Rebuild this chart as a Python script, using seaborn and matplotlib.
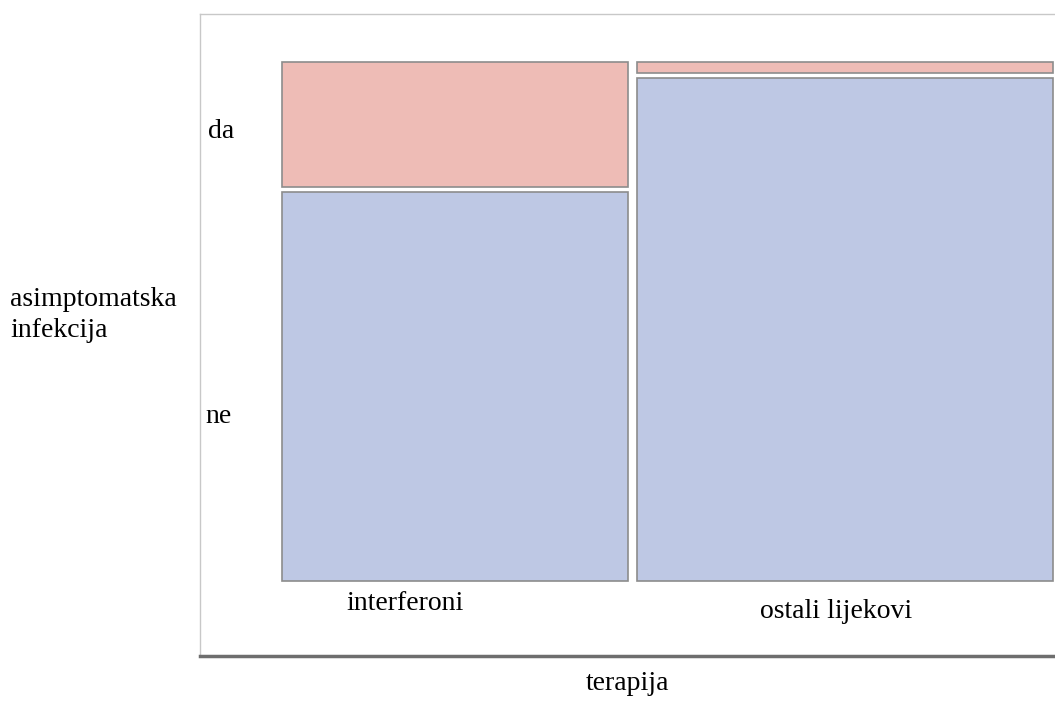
import numpy as np
import matplotlib
matplotlib.use('Agg')
import matplotlib.pyplot as plt
import seaborn as sns

# mosaic plot: terapija x asimptomatska infekcija
therapies = ['interferoni', 'ostali lijekovi']
levels = ['da', 'ne']
count_da = [16, 2]
count_ne = [49, 76]
colors = {'da': '#eebcb6', 'ne': '#bec8e4'}

sns.set_style('white')
plt.rcParams['font.family'] = ['Liberation Serif', 'DejaVu Serif']
plt.rcParams['text.color'] = 'black'

fig = plt.figure(figsize=(10.55, 7.15), dpi=100)
W, H = 1055, 715
# axes frame in pixels: left 200, right off-canvas, top 14, bottom 656
ax = fig.add_axes([200 / W, (H - 656) / H, 870 / W, (656 - 14) / H])

da = np.array(count_da, dtype=float)
ne = np.array(count_ne, dtype=float)
totals = da + ne
shares = totals / totals.sum()
x_gap = 0.0117
y_gap = 0.0088

lefts = np.concatenate([[0], np.cumsum(shares)[:-1]])
widths = shares - x_gap / 2
lefts = lefts + np.array([0, x_gap / 2])
p_da = da / totals
p_ne = ne / totals

# 'ne' at the bottom, 'da' on top
ax.bar(lefts, p_ne - y_gap / 2, width=widths, bottom=0, align='edge',
       color=colors['ne'], edgecolor='#8c8c8c', linewidth=1.2)
ax.bar(lefts, p_da - y_gap / 2, width=widths, bottom=p_ne + y_gap / 2,
       align='edge', color=colors['da'], edgecolor='#8c8c8c', linewidth=1.2)

# map mosaic [0,1]x[0,1] onto pixels 282..1053 and 581..62
ax.set_xlim((200 - 282) / 771, (1070 - 282) / 771)
ax.set_ylim(-(656 - 581) / 519, 1 + (581 - 14 - 519) / 519)
ax.set_xticks([])
ax.set_yticks([])
for side in ['top', 'left']:
    ax.spines[side].set_color('#c8c8c8')
    ax.spines[side].set_linewidth(1)
ax.spines['right'].set_visible(False)
ax.spines['bottom'].set_color('#6e6e6e')
ax.spines['bottom'].set_linewidth(2.5)

fs = 20
fig.text(208 / W, 1 - 132 / H, levels[0], fontsize=fs, va='center', ha='left')
fig.text(205 / W, 1 - 417 / H, levels[1], fontsize=fs, va='center', ha='left')
fig.text(10 / W, 1 - 315 / H, 'asimptomatska\ninfekcija', fontsize=fs,
         va='center', ha='left', linespacing=1.3)
fig.text(405 / W, 1 - 604 / H, therapies[0], fontsize=fs, va='center', ha='center')
fig.text(836 / W, 1 - 612 / H, therapies[1], fontsize=fs, va='center', ha='center')
fig.text(628 / W, 1 - 683 / H, 'terapija', fontsize=fs, va='center', ha='center')

fig.savefig('out.png', dpi=100)
